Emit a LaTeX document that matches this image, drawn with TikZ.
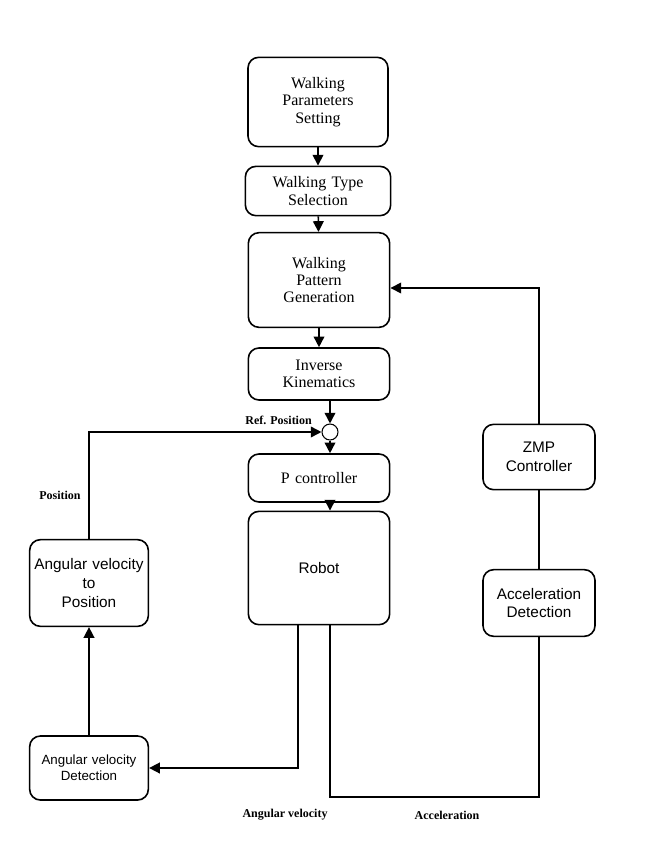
\documentclass[tikz,border=0pt]{standalone}
\usepackage{fontspec}
\setmainfont{Liberation Serif}
\setsansfont{Liberation Sans}
\usepackage{tikz}
\usetikzlibrary{arrows.meta}

\begin{document}
\begin{tikzpicture}[x=0.75pt,y=-0.75pt,>={Triangle[length=8pt,width=8pt]},line width=1.2pt]
\tikzstyle{block} = [rectangle, draw, rounded corners=8pt, text centered, font=\fontsize{12}{13}\selectfont, inner sep=2pt]
\tikzstyle{sblock} = [block, font=\fontsize{11.5}{14}\selectfont\sffamily]
\tikzstyle{lbl} = [font=\fontsize{9}{10}\selectfont\bfseries]
\useasboundingbox (0,0) rectangle (662,864);
\node[block, minimum width=105pt, minimum height=67pt, text width=90pt] (WPS) at (318,102) {Walking\\Parameters\\Setting};
\node[block, minimum width=109pt, minimum height=37pt, text width=95pt] (WTS) at (318,191) {Walking Type\\Selection};
\node[block, minimum width=106pt, minimum height=71pt, text width=90pt] (WPG) at (319,280) {Walking\\Pattern\\Generation};
\node[block, minimum width=106pt, minimum height=39pt, text width=90pt] (IK) at (319,374) {Inverse\\Kinematics};
\node[circle, draw, line width=0.8pt, minimum size=12pt, inner sep=0pt] (SUM) at (330,432) {};
\node[lbl, anchor=east] (REF) at (317,420) {Ref. Position};
\node[block, minimum width=106pt, minimum height=36pt, text width=90pt] (PC) at (319,478) {P controller};
\node[sblock, minimum width=106pt, minimum height=85pt, text width=90pt] (ROB) at (319,568) {Robot};
\node[sblock, minimum width=88pt, minimum height=65pt, text width=85pt] (AVP) at (89,583) {Angular velocity\\to\\Position};
\node[sblock, minimum width=88pt, minimum height=48pt, text width=85pt, font=\fontsize{10}{12}\selectfont\sffamily] (AVD) at (89,768) {Angular velocity\\Detection};
\node[sblock, minimum width=84pt, minimum height=49pt, text width=80pt] (ZMP) at (539,457) {ZMP\\Controller};
\node[sblock, minimum width=84pt, minimum height=50pt, text width=80pt] (ACD) at (539,603) {Acceleration\\Detection};
\node[lbl] (POS) at (60,495) {Position};
\node[lbl] (AVL) at (285,815) {Angular velocity};
\node[lbl] (ACL) at (447,815) {Acceleration};
\coordinate (RL) at (298,768);
\coordinate (RR) at (330,797);
\draw[->] (WPS) -- (WTS);
\draw[->] (WTS) -- (WPG);
\draw[->] (WPG) -- (IK);
\draw[->] (IK.south -| SUM) -- (SUM);
\draw[->] (SUM) -- (PC.north -| SUM);
\draw[->] (PC.south -| SUM) -- (ROB.north -| SUM);
\draw[->] (ROB.south -| RL) -- (RL) -- (AVD.east);
\draw[->] (AVD) -- (AVP);
\draw[->] (AVP.north) |- (SUM.west);
\draw (ROB.south -| RR) -- (RR) -| (ACD.south);
\draw (ACD) -- (ZMP);
\draw[->] (ZMP.north) |- (WPG.east |- 0,288);
\end{tikzpicture}
\end{document}
